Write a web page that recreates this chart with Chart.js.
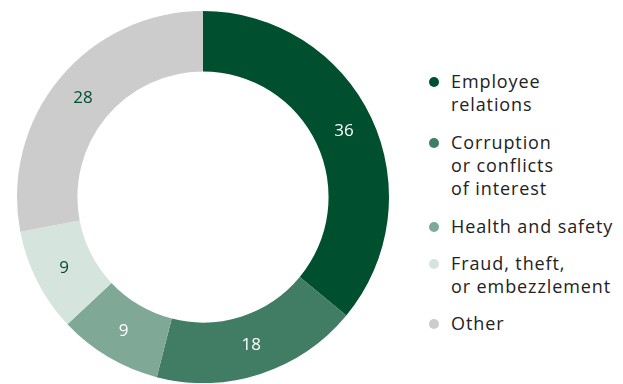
<!DOCTYPE html>
<html>
<head>
<meta charset="utf-8">
<script src="https://cdn.jsdelivr.net/npm/chart.js@4"></script>
<style>
  html, body { margin: 0; padding: 0; background: #fff; }
  body { width: 623px; height: 384px; position: relative; overflow: hidden; font-family: "Open Sans", "Noto Sans", sans-serif; }
  #chartBox { position: absolute; left: 0; top: 11px; width: 406px; height: 372px; }
  #legend { position: absolute; left: 427px; top: 70px; list-style: none; margin: 0; padding: 0; }
  #legend li { position: relative; padding-left: 24px; font-size: 18px; line-height: 23.4px; color: #222; margin-bottom: 13.8px; letter-spacing: 0.9px; }
  #legend li span.dot { position: absolute; left: 2px; top: 7px; width: 10px; height: 10px; border-radius: 50%; }
</style>
</head>
<body>
<div id="chartBox"><canvas id="donut"></canvas></div>
<ul id="legend"></ul>
<script>
const categories = [
  ["Employee", "relations"],
  ["Corruption", "or conflicts", "of interest"],
  ["Health and safety"],
  ["Fraud, theft,", "or embezzlement"],
  ["Other"]
];
const values = [36, 18, 9, 9, 28];
const colors = ["#00502f", "#417c64", "#7fa996", "#d6e4de", "#cccccc"];
const labelColors = ["#ffffff", "#ffffff", "#ffffff", "#00502f", "#00502f"];

// Legend
const legend = document.getElementById("legend");
categories.forEach((lines, i) => {
  const li = document.createElement("li");
  li.innerHTML = `<span class="dot" style="background:${colors[i]}"></span>` + lines.join("<br>");
  legend.appendChild(li);
});

// Value labels inside the slices
const sliceLabels = {
  id: "sliceLabels",
  afterDatasetsDraw(chart) {
    const ctx = chart.ctx;
    const meta = chart.getDatasetMeta(0);
    ctx.save();
    ctx.font = "17px 'Open Sans', 'Noto Sans', sans-serif";
    ctx.textAlign = "center";
    ctx.textBaseline = "middle";
    meta.data.forEach((arc, i) => {
      const p = arc.tooltipPosition();
      ctx.fillStyle = labelColors[i];
      ctx.fillText(values[i], p.x, p.y);
    });
    ctx.restore();
  }
};

new Chart(document.getElementById("donut"), {
  type: "doughnut",
  data: {
    labels: categories.map(l => l.join(" ")),
    datasets: [{
      data: values,
      backgroundColor: colors,
      borderWidth: 0
    }]
  },
  options: {
    responsive: true,
    maintainAspectRatio: false,
    animation: false,
    cutout: "67.5%",
    layout: { padding: 0 },
    plugins: { legend: { display: false }, tooltip: { enabled: false } }
  },
  plugins: [sliceLabels]
});
</script>
</body>
</html>
